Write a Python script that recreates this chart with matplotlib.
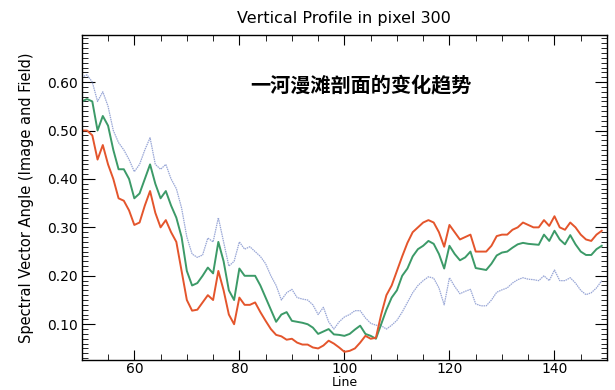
import numpy as np
import matplotlib.pyplot as plt
from matplotlib.ticker import MultipleLocator

plt.rcParams['font.family'] = ['DejaVu Sans', 'Noto Sans CJK SC']

lines = list(range(50, 150))

red = [0.50, 0.50, 0.49, 0.44, 0.47, 0.43, 0.40, 0.36, 0.355, 0.335,
       0.305, 0.31, 0.345, 0.375, 0.33, 0.30, 0.315, 0.29, 0.27, 0.21,
       0.15, 0.128, 0.13, 0.145, 0.16, 0.15, 0.21, 0.17, 0.12, 0.10,
       0.155, 0.14, 0.14, 0.145, 0.125, 0.107, 0.09, 0.078, 0.075, 0.068,
       0.07, 0.062, 0.058, 0.058, 0.052, 0.05, 0.056, 0.066, 0.06, 0.052,
       0.043, 0.045, 0.05, 0.062, 0.076, 0.07, 0.072, 0.12, 0.16, 0.18,
       0.21, 0.24, 0.268, 0.29, 0.30, 0.31, 0.315, 0.31, 0.29, 0.26,
       0.305, 0.29, 0.275, 0.28, 0.285, 0.25, 0.25, 0.25, 0.262, 0.282,
       0.285, 0.285, 0.295, 0.30, 0.31, 0.305, 0.30, 0.30, 0.315, 0.303,
       0.323, 0.30, 0.295, 0.31, 0.30, 0.285, 0.275, 0.272, 0.285, 0.293]

green = [0.56, 0.565, 0.56, 0.50, 0.53, 0.51, 0.46, 0.42, 0.42, 0.40,
         0.36, 0.37, 0.40, 0.43, 0.39, 0.36, 0.375, 0.345, 0.32, 0.28,
         0.21, 0.18, 0.185, 0.20, 0.217, 0.205, 0.27, 0.23, 0.17, 0.15,
         0.215, 0.20, 0.20, 0.20, 0.18, 0.155, 0.13, 0.105, 0.12, 0.125,
         0.107, 0.105, 0.103, 0.10, 0.093, 0.08, 0.085, 0.09, 0.079, 0.078,
         0.076, 0.08, 0.089, 0.097, 0.08, 0.076, 0.07, 0.10, 0.13, 0.155,
         0.17, 0.20, 0.215, 0.24, 0.255, 0.262, 0.272, 0.266, 0.245, 0.215,
         0.262, 0.245, 0.232, 0.238, 0.25, 0.216, 0.214, 0.212, 0.225, 0.242,
         0.248, 0.25, 0.258, 0.265, 0.268, 0.266, 0.265, 0.264, 0.285, 0.272,
         0.293, 0.275, 0.265, 0.284, 0.265, 0.25, 0.243, 0.243, 0.255, 0.262]

blue = [0.61, 0.615, 0.60, 0.56, 0.58, 0.55, 0.50, 0.475, 0.46, 0.44,
        0.415, 0.43, 0.46, 0.485, 0.43, 0.42, 0.43, 0.40, 0.38, 0.34,
        0.28, 0.245, 0.238, 0.243, 0.278, 0.27, 0.32, 0.27, 0.22, 0.23,
        0.27, 0.255, 0.26, 0.25, 0.24, 0.225, 0.20, 0.18, 0.15, 0.165,
        0.172, 0.155, 0.152, 0.15, 0.14, 0.12, 0.135, 0.105, 0.09, 0.105,
        0.115, 0.12, 0.128, 0.128, 0.113, 0.102, 0.098, 0.097, 0.09, 0.098,
        0.108, 0.125, 0.145, 0.165, 0.18, 0.19, 0.198, 0.195, 0.175, 0.14,
        0.196, 0.178, 0.163, 0.168, 0.172, 0.142, 0.138, 0.138, 0.15, 0.166,
        0.171, 0.175, 0.185, 0.192, 0.196, 0.193, 0.192, 0.19, 0.20, 0.19,
        0.212, 0.19, 0.19, 0.196, 0.185, 0.17, 0.161, 0.165, 0.175, 0.19]

fig = plt.figure(figsize=(6.15, 3.9), dpi=100)
ax = fig.add_axes([0.133, 0.078, 0.854, 0.832])

ax.plot(lines, blue, color='#98a6d6', lw=0.9, ls=(0, (1.2, 0.6)))
ax.plot(lines, green, color='#3c9a68', lw=1.4)
ax.plot(lines, red, color='#e4552c', lw=1.4)

ax.set_xlim(50, 150)
ax.set_ylim(0.027, 0.697)
ax.xaxis.set_major_locator(MultipleLocator(20))
ax.xaxis.set_minor_locator(MultipleLocator(5))
ax.yaxis.set_major_locator(MultipleLocator(0.1))
ax.yaxis.set_minor_locator(MultipleLocator(0.01))
ax.yaxis.set_major_formatter(plt.FuncFormatter(lambda v, p: '%.2f' % v))
ax.tick_params(which='both', direction='in', top=True, right=True, labelsize=10, pad=3)
ax.tick_params(axis='x', which='both', pad=1.5)
ax.tick_params(which='major', axis='x', length=7)
ax.tick_params(which='minor', axis='x', length=4)
ax.tick_params(which='major', axis='y', length=9)
ax.tick_params(which='minor', axis='y', length=4)
for s in ax.spines.values():
    s.set_linewidth(1.0)

ax.set_title('Vertical Profile in pixel 300', fontsize=11.5, pad=9)
ax.set_xlabel('Line', fontsize=9, labelpad=0.5)
ax.set_ylabel('Spectral Vector Angle (Image and Field)', fontsize=10.5, labelpad=9)

ax.text(0.32, 0.88, '一河漫滩剖面的变化趋势', transform=ax.transAxes,
        fontsize=14.5, fontweight='bold', family=['Noto Sans CJK SC'], va='top')

fig.savefig('out.png', dpi=100)
